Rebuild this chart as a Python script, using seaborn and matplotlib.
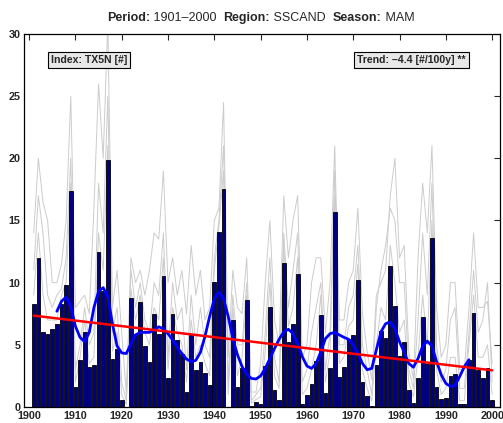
import seaborn as sns
import matplotlib.pyplot as plt
import pandas as pd
import numpy as np

years = list(range(1901, 2001))
# regional index (bars)
index_vals = [8.25, 12.0, 6.0, 5.9, 6.25, 6.65, 8.25, 9.8, 17.4, 1.6,
              3.8, 6.0, 3.2, 3.4, 12.45, 9.35, 19.85, 3.9, 4.7, 0.6,
              0.0, 8.8, 5.85, 8.45, 4.9, 3.65, 7.5, 5.9, 10.5, 2.35,
              7.5, 5.4, 4.3, 1.2, 5.8, 3.0, 3.65, 2.7, 1.75, 10.05,
              14.1, 17.5, 0.0, 7.0, 1.6, 3.15, 8.6, 0.12, 0.4, 0.28,
              3.3, 8.05, 1.35, 0.6, 11.6, 5.25, 6.7, 10.7, 0.27, 0.97,
              1.85, 3.7, 7.4, 1.12, 3.15, 15.7, 2.38, 3.25, 5.45, 5.8,
              10.2, 2.0, 0.9, 0.1, 3.38, 6.14, 5.55, 11.34, 8.15, 4.1,
              5.2, 1.37, 0.35, 2.36, 7.27, 3.48, 13.57, 1.64, 0.62, 0.7,
              2.52, 2.65, 0.24, 0.24, 3.78, 7.54, 2.98, 2.36, 3.1, 0.56]

# station series (grey)
station_a = [14, 20, 16.5, 15, 10, 10, 11.5, 15, 25, 8,
             8.5, 9, 7.5, 16, 26, 20, 31, 8, 11, 6,
             1, 12, 10, 11, 9, 11, 14, 13.5, 19, 10,
             12, 9, 11, 7.5, 13, 9, 11, 7, 8, 15,
             16, 24.5, 4, 11, 8, 7.5, 12, 1.2, 1.2, 3.5,
             10, 15, 7, 5, 17, 12, 15, 17, 4, 5,
             10, 12, 12, 6, 10, 21, 7, 7, 10, 11,
             16, 7.5, 4.5, 2.2, 9, 10, 11, 17, 20, 12,
             13, 4.5, 2.2, 12, 18, 14, 21, 8, 4, 5,
             10, 10, 3, 3, 8, 14, 8, 8, 8.5, 3.5]
station_b = [11, 17, 14, 9, 8, 9, 9.5, 12, 20, 3,
             5, 8, 5, 6, 18, 14, 25, 6, 8, 2,
             0.5, 11, 8, 10, 7, 6, 10, 9, 14, 4,
             10, 7, 8, 3, 9, 5, 8, 5, 4, 12,
             15, 21, 2, 9, 5, 5, 10, 0.5, 1, 1.5,
             6, 12, 4, 2, 14, 8, 11, 14, 2, 3,
             6, 8, 10, 3, 6, 19, 5, 5, 8, 9,
             13, 5, 3, 1, 8, 11, 13, 16, 15, 10,
             10, 3, 1.5, 7, 14, 9, 18, 5, 2, 3,
             7, 8, 1.5, 1.5, 6, 11, 6, 7, 10, 2]
station_c = [9, 14, 9, 7, 7, 7, 9, 10, 18, 2,
             4, 7, 3.5, 4, 14, 11, 21, 4.5, 6, 1,
             0.2, 9.5, 7, 9, 6, 5, 8, 7, 12, 3,
             8, 6, 5, 2, 7, 4, 5, 3.5, 2.5, 11,
             14.5, 19, 1, 8, 2.5, 4, 9, 0.3, 0.6, 0.8,
             4.5, 10, 2.5, 1.5, 13, 6.5, 8, 12, 1, 1.5,
             3, 5, 9, 2, 4.5, 17, 3.5, 4, 6.5, 7,
             11.5, 3, 1.5, 0.5, 5, 8, 7, 13, 10, 6,
             7, 2, 0.8, 4, 9, 5, 15, 3, 1, 1.5,
             4, 4, 0.5, 0.5, 5, 9, 4, 4, 5, 1]

# smoothed curve
smooth_years = list(range(1906, 1996))
smooth_vals = [7.7, 8.5, 8.85, 8.1, 6.5, 5.6, 5.25, 6.0, 8.0, 9.3,
               9.6, 8.9, 6.7, 4.9, 4.35, 4.3, 5.1, 5.8, 6.0, 6.0,
               6.0, 6.2, 6.45, 6.3, 5.9, 5.4, 4.8, 4.3, 3.85, 3.65,
               3.75, 4.4, 5.7, 7.3, 8.7, 9.25, 8.7, 7.3, 5.5, 4.2,
               3.25, 2.65, 2.3, 2.25, 2.5, 3.1, 3.9, 4.7, 5.45, 6.05,
               6.25, 5.9, 5.1, 4.05, 3.3, 3.1, 3.5, 4.45, 5.5, 5.9,
               6.0, 5.8, 5.6, 5.45, 5.0, 4.3, 3.5, 3.0, 3.1, 4.6,
               6.05, 6.7, 6.85, 6.3, 5.25, 4.4, 3.5, 3.2, 3.9, 4.9,
               5.3, 4.9, 3.65, 2.6, 1.9, 1.65, 1.75, 2.45, 3.25, 3.8]

# linear trend end points
trend_years = [1901, 2000]
trend_vals = [7.35, 2.95]

sns.set_style("white")
plt.rcParams['font.family'] = ['Liberation Sans', 'DejaVu Sans']

fig = plt.figure(figsize=(5.03, 4.23), dpi=100)
ax = fig.add_axes([24/503, 16/423, 476/503, 373/423])

gray_df = pd.DataFrame({
    "year": years * 3,
    "value": station_a + station_b + station_c,
    "station": ["a"] * 100 + ["b"] * 100 + ["c"] * 100,
})
sns.lineplot(data=gray_df, x="year", y="value", units="station", estimator=None,
             color="#cccccc", lw=0.7, ax=ax, zorder=1)

sns.barplot(x=years, y=index_vals, native_scale=True, color="#000080",
            saturation=1, edgecolor="black", linewidth=0.6, width=0.8,
            errorbar=None, ax=ax, zorder=2)

sns.lineplot(x=smooth_years, y=smooth_vals, color="#0000ff", lw=2.0, ax=ax, zorder=3)
sns.lineplot(x=trend_years, y=trend_vals, color="#ff0000", lw=1.8, ax=ax, zorder=4)

ax.set_xlim(1898.9, 2001.7)
ax.set_ylim(0, 30)
ax.set_xticks(range(1900, 2001, 10))
ax.set_yticks(range(0, 31, 5))
ax.set_xlabel("")
ax.set_ylabel("")
ax.tick_params(direction="in", top=True, right=True, length=4, width=0.8,
               labelsize=7.8, pad=2.5)
ax.tick_params(axis="x", pad=3)
for lbl in ax.get_xticklabels() + ax.get_yticklabels():
    lbl.set_fontweight("bold")
for sp in ax.spines.values():
    sp.set_color("black")
    sp.set_linewidth(0.9)

box = dict(boxstyle="square,pad=0.28", facecolor="#e8e8e8", edgecolor="black", lw=0.8)
ax.text(0.056, 0.943, "Index: TX5N [#]", transform=ax.transAxes, fontsize=7.6,
        fontweight="bold", va="top", ha="left", bbox=box, zorder=5)
ax.text(0.928, 0.943, "Trend: \u20134.4 [#/100y] **", transform=ax.transAxes, fontsize=7.6,
        fontweight="bold", va="top", ha="right", bbox=box, zorder=5)

# title in pieces: bold labels, normal values
parts = [("Period:", "bold"), (" 1901\u20132000  ", "normal"), ("Region:", "bold"),
         (" SSCAND  ", "normal"), ("Season:", "bold"), (" MAM", "normal")]
t = fig.text(107/503, 1 - 21/423, parts[0][0], fontsize=9, fontweight=parts[0][1],
             va="baseline", ha="left")
for s, w in parts[1:]:
    t = ax.annotate(s, xy=(1, 0), xycoords=t, va="bottom", ha="left",
                    fontsize=9, fontweight=w, annotation_clip=False)

plt.savefig("out.png", dpi=100)
